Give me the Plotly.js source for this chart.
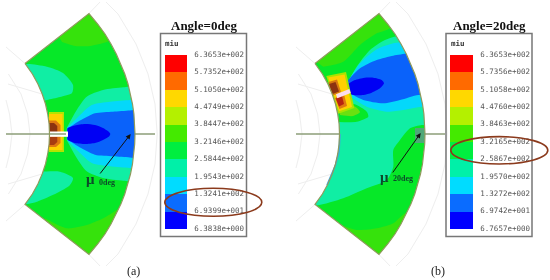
<!DOCTYPE html>
<html><head><meta charset="utf-8">
<script src="https://cdn.plot.ly/plotly-3.0.1.min.js"></script>
<style>html,body{margin:0;padding:0;background:#fff}#g{width:550px;height:280px;filter:blur(0.35px)}</style>
</head><body><div id="g"></div>
<script>
// ---------- legend data ----------
const bandColors = ['#0000ff','#0a6cff','#00dcff','#00f0a8','#00ee40','#44ea00','#b4f000','#ffd800','#ff6a00','#ff0000'];
const bandCounts = [1,1,1,1,1,1,1,1,1,1];
const levelIndex = [10,9,8,7,6,5,4,3,2,1,0];
const labelsA = ['6.3653e+002','5.7352e+002','5.1050e+002','4.4749e+002','3.8447e+002','3.2146e+002','2.5844e+002','1.9543e+002','1.3241e+002','6.9399e+001','6.3838e+000'];
const labelsB = ['6.3653e+002','5.7356e+002','5.1058e+002','4.4760e+002','3.8463e+002','3.2165e+002','2.5867e+002','1.9570e+002','1.3272e+002','6.9742e+001','6.7657e+000'];

// ---------- sector outline (shared by both panels) ----------
const sector = [[25,63.5],[32.4,74],[37.9,84],[42.2,94],[45.5,104],[47.7,114],[49.1,124],[49.5,134],[49.1,144],[47.7,154],[45.5,164],[42.2,174],[37.9,184],[32.4,194],[25,204.5],
[89,254.5],[97.7,244],[105,234],[111,224],[116.3,214],[120.9,204],[124.8,194],[128,184],[130.5,174],[132.5,164],[133.9,154],[134.7,144],[135,134],[134.7,124],[133.9,114],[132.5,104],[130.5,94],[128,84],[124.8,74],[120.9,64],[116.3,54],[111,44],[105,34],[97.7,24],[89,13.5]];
const maskFrame = [[-5,63.5],[-5,-5],[155,-5],[155,285],[-5,285],[-5,63.5]];
const axisLeft = [[6,134],[49.5,134]];
const axisRight = [[135,134],[155,134]];
const gridArcs = [
 [[157.2,134],[155,104],[148,74],[136,44],[118,14],[106,2]],
 [[157.2,134],[155,164],[148,194],[136,224],[118,254],[106,266]],
 [[30,134],[27.6,114],[21,94],[8.4,74]],
 [[30,134],[27.6,154],[21,174],[8.4,194]],
 [[12,134],[9.5,114],[6,100]],
 [[12,134],[9.5,154],[6,168]],
 [[25,63.5],[6,47]],[[25,204.5],[6,221]],
 [[42,94],[8,84]],[[42,174],[8,184]],
 [[89,13.5],[100,2]],[[89,254.5],[100,266]]
];

// ---------- panel (a) contour regions ----------
const aLimeTop = [[62,42],[75,46],[90,46],[106.7,42],[118.3,37],[140,30],[100,0],[55,30]];
const aLimeBottom = [[45,218.3],[66.7,228.3],[86.7,225],[103.3,218.3],[116.7,210],[125,205],[142,195],[140,270],[50,270]];
const aAquaUpperLobe = [[15,65],[28,64],[47,66.7],[63,73],[73,85],[72,93],[60,97],[47,100],[40,102],[15,102]];
const aAquaLowerLobe = [[15,171.7],[40,171.7],[60,171.7],[73,178],[70,185],[57,193],[37,201.7],[28,204],[15,206]];
const aAquaFan = [[66.7,128],[76.7,110],[86.7,96.7],[103,90],[123.3,87.3],[142,87],[142,181],[123.3,180.7],[103,178],[86.7,171.3],[76.7,158],[66.7,140]];
const aCyanFan = [[67,128],[78,117],[91.7,105],[110,101.7],[130,100],[142,99],[142,169],[130,168],[110,166.3],[91.7,163],[78,151],[67,140]];
const aBlueFan = [[67,129],[78,121.7],[95,113.3],[113,111.7],[130,110.5],[142,110],[142,158],[130,157.5],[113,156.3],[95,154.7],[78,146.3],[67,139]];
const aDeepBlue = [[67.5,128],[75,125.5],[85,124],[95,125],[103,128],[109,132],[110.3,134],[109,136.5],[103,140],[95,143],[85,144],[75,143],[67.5,140]];
const aHotLime = [[49,112],[64,112],[64,152],[49,152]];
const aHotYellow = [[49,114],[62.5,114],[62.5,150],[49,150]];
const aOrangeUp = [[48,120.5],[56,120.5],[60.5,125],[60.5,133],[48,133]];
const aOrangeDown = [[48,136],[60.5,136],[60.5,143],[56,147],[48,147]];
const aBrownUp = [[49,123],[54,123],[57.3,126],[57.3,132],[49,132]];
const aBrownDown = [[49,137],[57.3,137],[57.3,142],[54,145],[49,145]];
const aSlot = [[49,131.5],[68,131.5],[68,136.8],[49,136.8]];
const aSlotLine = [[49.5,134],[66,134]];

// ---------- panel (b) contour regions ----------
const bLimeTop = [[33.3,66.7],[53.3,61.7],[70,45],[86.7,33.3],[96.7,30],[110,20],[90,5],[10,50]];
const bLimeBottom = [[51.7,225.3],[66.7,230],[86.7,228.3],[103.3,223.3],[115,213.3],[140,205],[140,270],[50,270]];
const bAquaField = [[56,90],[58.3,81.7],[66.7,66.7],[80,50],[95,40],[107.3,36],[142,30],[142,125],[131.7,125],[120,128.3],[110,140],[103.3,150],[103.3,166.7],[96.7,180],[76.7,188.3],[53.3,198.3],[26.7,205.5],[0,205],[0,90]];
const bGrayPatch = [[125,128],[136,128],[136,143],[125,143]];
const bInnerStrip = [[50,134],[49,152],[45.5,165],[37,185]];
const bGreenLobe = [[48,106],[64,104],[76.7,111.7],[78.3,116.7],[66.7,121.7],[49,122]];
const bLimeLobe = [[50,108],[64,106],[70,112],[63,116],[50,115]];
const bCyanFan = [[57.3,82.7],[70,63.3],[86.7,49.3],[103.3,43.3],[110,42.3],[142,40],[142,108],[131.7,106.7],[113.3,110],[96.7,111.7],[76.7,106.7],[58.3,95]];
const bBlueFan = [[56.7,81.7],[70,68.3],[86.7,60],[103.3,55.7],[118.3,53.3],[142,50],[142,95],[128.3,95],[110,100],[93.3,103.3],[73.3,100],[60,93.3]];
const bDeepBlue = [[57.7,84],[63.3,80.7],[73.3,78],[83.3,77.7],[91.7,80],[94,83.3],[90,88.3],[81.7,92.7],[73.3,95],[63.3,95],[58.3,93.3],[57.3,90]];
const bHotLime = [[36.3,76],[56,72],[64.3,108],[48.3,113.7]];
const bHotYellow = [[38.3,77.5],[54.5,74.5],[62,107],[49,111.2]];
const bOrangeUp = [[38.5,82],[47,79.5],[51,92],[42,96]];
const bOrangeDown = [[45,98],[54,94],[57,106],[49.5,109]];
const bBrownUp = [[39,84],[45.5,82],[49,91.5],[42.5,94]];
const bRedDown = [[45.8,98.5],[52,96],[54,104],[49,106.5]];
const bSlot = [[46,94.3],[59.3,89],[60.7,93],[47.3,98.3]];

const xs = p => p.map(q => q[0]);
const ys = p => p.map(q => q[1]);
function fillPoly(points, color, xa, smooth){
  return {type:'scatter',mode:'lines',x:xs(points),y:ys(points),xaxis:xa,yaxis:'y',fill:'toself',fillcolor:color,
    line:{width:0,color:color,shape:smooth?'spline':'linear',smoothing:0.7},hoverinfo:'skip'};
}
function strokeLine(points, color, w, xa){
  return {type:'scatter',mode:'lines',x:xs(points),y:ys(points),xaxis:xa,yaxis:'y',line:{color:color,width:w},hoverinfo:'skip'};
}
// white frame around the sector: the frame runs clockwise, the sector the other way, leaving a hole
const mask = maskFrame.concat(sector, [sector[0]]);
function frameLayers(xa){
  const out = [fillPoly(mask,'#ffffff',xa,false)];
  gridArcs.forEach(g => out.push(strokeLine(g,'#eeeeee',1,xa)));
  out.push(strokeLine(axisLeft,'#8d9e78',1.5,xa));
  out.push(strokeLine(axisRight,'#8d9e78',1.5,xa));
  return out;
}

const GREEN='#06e828', LIME='#36e20c', AQUA='#10eea4', CYAN='#04d8fa', BLUE='#0a62fa', DEEP='#0000f4';
const panelA = [
  fillPoly(sector,GREEN,'x',false),
  fillPoly(aLimeTop,LIME,'x',true), fillPoly(aLimeBottom,LIME,'x',true),
  fillPoly(aAquaUpperLobe,AQUA,'x',true), fillPoly(aAquaLowerLobe,AQUA,'x',true),
  fillPoly(aAquaFan,AQUA,'x',true), fillPoly(aCyanFan,CYAN,'x',true), fillPoly(aBlueFan,BLUE,'x',true), fillPoly(aDeepBlue,DEEP,'x',true),
  fillPoly(aHotLime,'#b4e400','x',false), fillPoly(aHotYellow,'#ffd000','x',false),
  fillPoly(aOrangeUp,'#e07a10','x',false), fillPoly(aOrangeDown,'#e07a10','x',false),
  fillPoly(aBrownUp,'#8c3410','x',false), fillPoly(aBrownDown,'#a83c10','x',false),
  ...frameLayers('x'),
  fillPoly(aSlot,'#ffffff','x',false),
  strokeLine(aSlotLine,'#8d9e78',1.5,'x'),
  strokeLine(sector.concat([sector[0]]),'#8f9a5c',1.2,'x')
];
const panelB = [
  fillPoly(sector,GREEN,'x2',false),
  fillPoly(bLimeTop,LIME,'x2',true), fillPoly(bLimeBottom,LIME,'x2',true),
  fillPoly(bAquaField,AQUA,'x2',true), fillPoly(bGrayPatch,'#4fa878','x2',false),
  fillPoly(bGreenLobe,GREEN,'x2',true), fillPoly(bLimeLobe,'#6ae010','x2',true),
  fillPoly(bCyanFan,CYAN,'x2',true), fillPoly(bBlueFan,BLUE,'x2',true), fillPoly(bDeepBlue,DEEP,'x2',true),
  fillPoly(bHotLime,'#a8e400','x2',false), fillPoly(bHotYellow,'#ffd000','x2',false),
  fillPoly(bOrangeUp,'#d87a10','x2',false), fillPoly(bOrangeDown,'#e07a10','x2',false),
  fillPoly(bBrownUp,'#8c3410','x2',false), fillPoly(bRedDown,'#b82410','x2',false),
  ...frameLayers('x2'),
  fillPoly(bSlot,'#fbdcf0','x2',false),
  strokeLine(bInnerStrip,'#40a8e0',1.6,'x2'),
  strokeLine(sector.concat([sector[0]]),'#8f9a5c',1.2,'x2')
];
function bandBar(xPos){
  return {type:'bar',x:bandCounts.map(()=>xPos),y:bandCounts,width:22.7,xaxis:'x3',yaxis:'y3',
    marker:{color:bandColors,line:{width:0}},hoverinfo:'skip'};
}
function bandText(xPos,labels){
  return {type:'scatter',mode:'text',x:labels.map(()=>xPos),y:levelIndex,text:labels,textposition:'middle left',xaxis:'x3',yaxis:'y3',
    textfont:{family:'"DejaVu Sans Mono",monospace',size:7.5,color:'#555'},cliponaxis:false,hoverinfo:'skip'};
}
const traces = [...panelA,...panelB,bandBar(176),bandBar(461.4),bandText(244,labelsA),bandText(530,labelsB)];

const serif='"Liberation Serif",serif';
const txt=(x,y,text,size,color,family,extra)=>Object.assign({x,y,xref:'paper',yref:'paper',text,showarrow:false,
  font:{size,color,family},xanchor:'center',yanchor:'middle'},extra||{});
const px=x=>x/550, py=y=>1-y/280;
const arrow=(x0,y0,x1,y1)=>({xref:'x',yref:'y',axref:'x',ayref:'y',x:x1,y:y1,ax:x0,ay:y0,text:'',showarrow:true,arrowhead:2,arrowsize:1,arrowwidth:1,arrowcolor:'#101010'});
const rect=(x0,x1)=>({type:'rect',xref:'x',yref:'y',x0,x1,y0:33.6,y1:236.4,line:{color:'#777',width:1.5},fillcolor:'rgba(0,0,0,0)',layer:'above'});
const ring=(cx,cy,rx,ry)=>({type:'circle',xref:'x',yref:'y',x0:cx-rx,x1:cx+rx,y0:cy-ry,y1:cy+ry,line:{color:'#8b3a1c',width:1.6},fillcolor:'rgba(0,0,0,0)',layer:'above'});
const hidden={visible:false,fixedrange:true};
const layout={
  width:550,height:280,margin:{l:0,r:0,t:0,b:0},paper_bgcolor:'#fff',plot_bgcolor:'rgba(0,0,0,0)',showlegend:false,barmode:'stack',
  xaxis:{...hidden,range:[0,550],domain:[0,1],anchor:'y'},
  xaxis2:{...hidden,range:[-290,260],domain:[0,1],overlaying:'x',anchor:'y'},
  xaxis3:{...hidden,range:[0,550],domain:[0,1],anchor:'y3'},
  yaxis:{...hidden,range:[280,0],domain:[0,1],anchor:'x'},
  yaxis3:{...hidden,range:[0,10],domain:[51/280,225/280],anchor:'x3'},
  shapes:[rect(160.5,246.5),rect(446,532),ring(213.3,202.3,48.5,14),ring(499.3,150.3,48.5,13.7)],
  annotations:[
    txt(px(204),py(25.5),'<b>Angle=0deg</b>',13,'#111',serif),
    txt(px(489),py(25.5),'<b>Angle=20deg</b>',13,'#111',serif),
    txt(px(133.5),py(271),'(a)',12,'#222',serif),
    txt(px(438),py(271),'(b)',12,'#222',serif),
    txt(px(172),py(43),'<b>miu</b>',7.5,'#333','"DejaVu Sans Mono",monospace'),
    txt(px(458),py(43),'<b>miu</b>',7.5,'#333','"DejaVu Sans Mono",monospace'),
    txt(px(90.5),py(178.5),'<b>μ</b>',15,'#0d4a2a',serif),
    txt(px(106.5),py(182),'<b>0deg</b>',8,'#0d4a2a',serif),
    txt(px(384),py(176.5),'<b>μ</b>',15,'#0d4a2a',serif),
    txt(px(402.5),py(178.5),'<b>20deg</b>',8,'#0d4a2a',serif),
    arrow(99,175,130.7,134),
    arrow(391.7,174,420.7,133)
  ]
};
Plotly.newPlot('g',traces,layout,{staticPlot:true,displayModeBar:false});
</script></body></html>
